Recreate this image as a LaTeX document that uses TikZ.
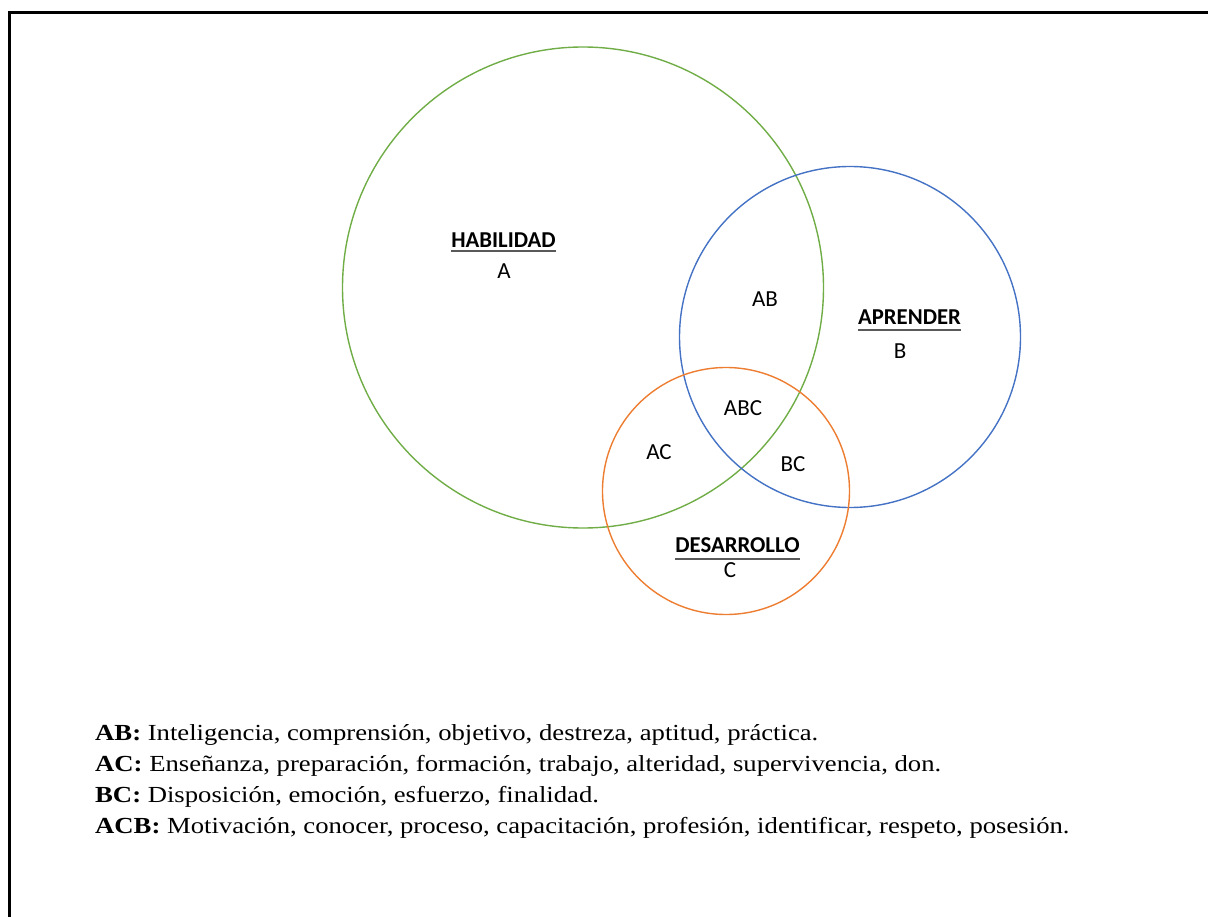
\documentclass[tikz,border=0pt]{standalone}
\usepackage{fontspec}
\setmainfont{Liberation Serif}
\newfontfamily\lblfont{Carlito}
\definecolor{vgreen}{RGB}{112,173,71}
\definecolor{vblue}{RGB}{68,114,196}
\definecolor{vorange}{RGB}{237,125,49}
\newcommand{\legline}[1]{\scalebox{1.16}[1]{#1}}
\begin{document}
\begin{tikzpicture}[x=1pt,y=-1pt,
  setcircle/.style={line width=1.4pt},
  lbl/.style={font=\lblfont\fontsize{23}{26}\selectfont, inner sep=0pt, anchor=base},
  head/.style={font=\lblfont\bfseries\fontsize{22.7}{26}\selectfont, inner sep=0pt, anchor=base},
  uline/.style={line width=2pt, black!65},
  legend/.style={font=\fontsize{23}{27}\selectfont, inner sep=0pt, anchor=base west}]
\useasboundingbox (0,0) rectangle (1208,917);
% frame
\draw[line width=3pt] (9,917) -- (9,12.5) -- (1208,12.5);
% circles
\draw[setcircle, vgreen] (583,287.5) circle[radius=240.5pt];
\draw[setcircle, vblue] (850,337) circle[radius=170.5pt];
\draw[setcircle, vorange] (726,491) circle[radius=123.5pt];
% headings
\node[head] (hA) at (503.5,248) {HABILIDAD};
\draw[uline] ([yshift=-3.5pt]hA.base west) -- ([yshift=-3.5pt]hA.base east);
\node[lbl] (lA) at (504,279) {A};
\node[head] (hB) at (909.5,325) {APRENDER};
\draw[uline] ([yshift=-5pt]hB.base west) -- ([yshift=-5pt]hB.base east);
\node[lbl] (lB) at (900,359) {B};
\node[head] (hC) at (737.5,552) {DESARROLLO};
\draw[uline] ([yshift=-6.5pt]hC.base west) -- ([yshift=-6.5pt]hC.base east);
\node[lbl] (lC) at (730,577) {C};
% intersections
\node[lbl] (lAB) at (765,307) {AB};
\node[lbl] (lABC) at (743,415) {ABC};
\node[lbl] (lAC) at (659,459) {AC};
\node[lbl] (lBC) at (793,471) {BC};
% legend
\node[legend] (t1) at (95,740) {\legline{\textbf{AB:} Inteligencia, comprensión, objetivo, destreza, aptitud, práctica.}};
\node[legend] (t2) at (95,771) {\legline{\textbf{AC:} Enseñanza, preparación, formación, trabajo, alteridad, supervivencia, don.}};
\node[legend] (t3) at (95,802) {\legline{\textbf{BC:} Disposición, emoción, esfuerzo, finalidad.}};
\node[legend] (t4) at (95,833) {\legline{\textbf{ACB:} Motivación, conocer, proceso, capacitación, profesión, identificar, respeto, posesión.}};
\end{tikzpicture}
\end{document}
